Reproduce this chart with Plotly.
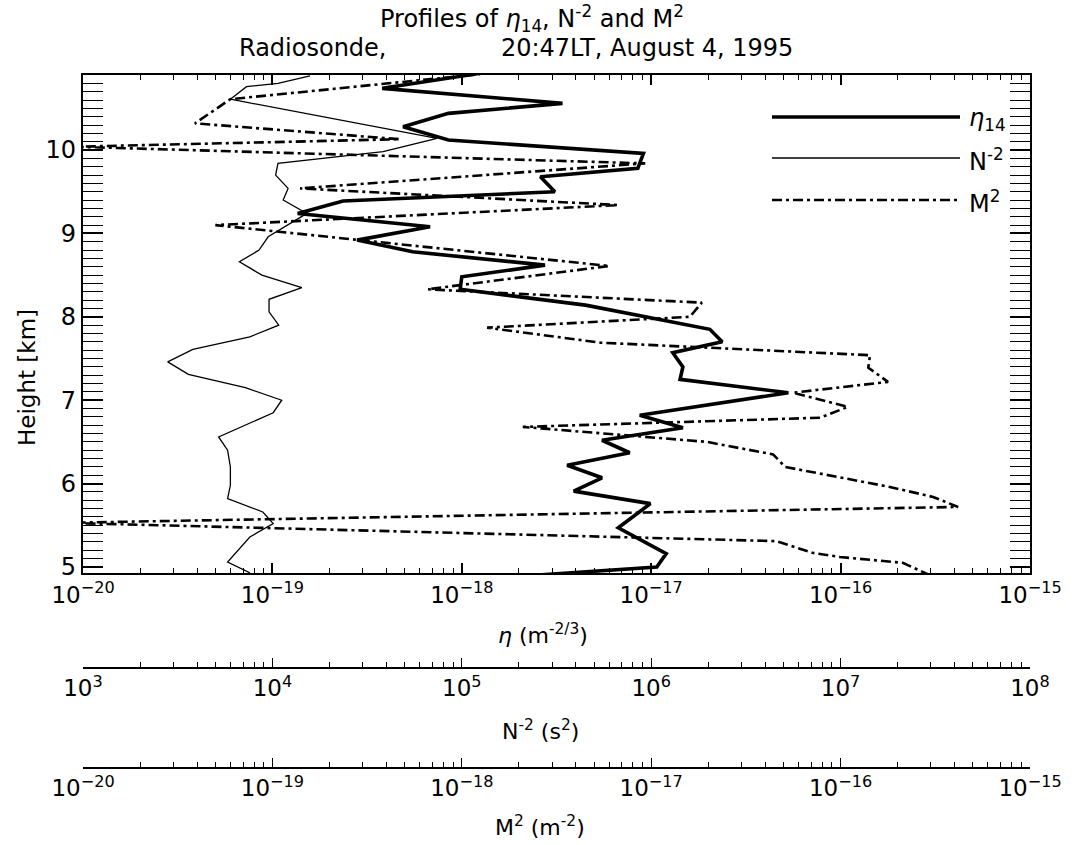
import plotly.graph_objects as go

# ---------------- data ----------------
# eta_14 profile (m^-2/3) vs height (km)
h_eta = [4.90, 5.00, 5.16, 5.47, 5.76, 5.91, 6.07, 6.22, 6.37, 6.52, 6.67, 6.82, 7.09,
         7.25, 7.40, 7.57, 7.70, 7.85, 8.14, 8.33, 8.48, 8.62, 8.78, 8.92, 9.08, 9.24,
         9.39, 9.50, 9.68, 9.78, 9.96, 10.12, 10.28, 10.44, 10.56, 10.74, 10.92]
eta14 = [2.4e-18, 1.07e-17, 1.20e-17, 6.7e-18, 9.9e-18, 3.9e-18, 5.5e-18, 3.6e-18, 7.7e-18,
         5.5e-18, 1.47e-17, 8.7e-18, 5.3e-17, 1.42e-17, 1.47e-17, 1.30e-17, 2.37e-17, 2.04e-17,
         4.5e-18, 9.8e-19, 1.0e-18, 2.75e-18, 5.5e-19, 2.8e-19, 6.8e-19, 1.36e-19, 2.36e-19,
         3.1e-18, 2.6e-18, 8.5e-18, 9.1e-18, 8.5e-19, 4.9e-19, 8.5e-19, 3.4e-18, 3.8e-19, 1.25e-18]

# N^-2 profile (s^2) vs height (km)
h_n = [4.93, 5.06, 5.36, 5.52, 5.66, 5.82, 5.98, 6.20, 6.40, 6.56, 6.85, 7.00, 7.15, 7.31,
       7.46, 7.61, 7.76, 7.90, 8.06, 8.21, 8.35, 8.50, 8.66, 8.80, 8.96, 9.24, 9.40, 9.54,
       9.70, 9.84, 9.98, 10.14, 10.61, 10.76, 10.80, 10.89]
n_inv2 = [7.6e3, 5.8e3, 7.6e3, 1.01e4, 8.9e3, 5.8e3, 6.0e3, 6.0e3, 5.8e3, 5.2e3, 1.01e4, 1.12e4,
          7.2e3, 3.6e3, 2.8e3, 3.8e3, 7.6e3, 1.08e4, 9.6e3, 9.6e3, 1.43e4, 8.8e3, 6.7e3, 8.5e3,
          9.5e3, 1.52e4, 1.14e4, 1.21e4, 1.04e4, 1.07e4, 3.84e4, 7.4e4, 6.0e3, 7.3e3, 1.07e4, 1.58e4]

# M^2 profile (m^-2) vs height (km)
h_m = [4.90, 5.05, 5.12, 5.17, 5.31, 5.53, 5.72, 5.84, 5.96, 6.20, 6.35, 6.50, 6.68, 6.79,
       6.92, 7.09, 7.22, 7.39, 7.54, 7.69, 7.87, 8.00, 8.17, 8.33, 8.61, 9.10, 9.34, 9.54,
       9.84, 10.04, 10.13, 10.32, 10.61, 10.91]
m_sq = [2.97e-16, 2.13e-16, 9.9e-17, 7.1e-17, 4.6e-17, 8e-21, 4.17e-16, 3.08e-16, 1.82e-16,
        5.1e-17, 4.4e-17, 1.97e-17, 2.1e-18, 7.8e-17, 1.09e-16, 5.6e-17, 1.78e-16, 1.40e-16,
        1.43e-16, 5.4e-18, 1.36e-18, 1.60e-17, 1.85e-17, 6.6e-19, 6.0e-18, 5.0e-20, 6.7e-18,
        1.40e-19, 9.3e-18, 9e-21, 4.7e-19, 3.9e-20, 6.0e-20, 1.25e-18]

eta_decades = [-20, -19, -18, -17, -16, -15]
n_decades = [3, 4, 5, 6, 7, 8]
m_decades = [-20, -19, -18, -17, -16, -15]
height_ticks = [5, 6, 7, 8, 9, 10]

# ---------------- layout geometry ----------------
W, H = 1077, 845
L, R, T, B = 83, 47, 75, 75
PW, PH = W - L - R, H - T - B


def px(p):
    return (p - L) / PW


def py(p):
    return (H - B - p) / PH


FONT = "DejaVu Sans"
DASHDOT = "10px,4px,3px,4px"
ETA = "<i>\u03b7</i>"


def minor_vals(decs):
    return [m * 10.0 ** e for e in decs[:-1] for m in range(2, 10)]


def sup_labels(decs):
    return ["10<sup>%s</sup>" % (str(d).replace("-", "\u2212")) for d in decs]


fig = go.Figure()
fig.add_trace(go.Scatter(x=eta14, y=h_eta, mode="lines", xaxis="x", yaxis="y",
                         line=dict(color="black", width=3.6), showlegend=False))
fig.add_trace(go.Scatter(x=n_inv2, y=h_n, mode="lines", xaxis="x2", yaxis="y",
                         line=dict(color="black", width=1.3), showlegend=False))
fig.add_trace(go.Scatter(x=m_sq, y=h_m, mode="lines", xaxis="x3", yaxis="y",
                         line=dict(color="black", width=2.6, dash=DASHDOT), showlegend=False))

common_x = dict(type="log", showgrid=False, zeroline=False, showline=True, linecolor="black",
                ticks="inside", tickcolor="black", tickfont=dict(family=FONT, size=23, color="black"),
                tickmode="array")

fig.update_layout(
    width=W, height=H, margin=dict(l=L, r=R, t=T, b=B),
    paper_bgcolor="white", plot_bgcolor="white",
    font=dict(family=FONT, color="black"),
    xaxis=dict(common_x, range=[-20, -15], anchor="y", linewidth=2.2, mirror="allticks",
               tickvals=[10.0 ** d for d in eta_decades], ticktext=sup_labels(eta_decades),
               ticklen=10, tickwidth=1.6,
               minor=dict(tickmode="array", tickvals=minor_vals(eta_decades), ticks="inside",
                          ticklen=5, tickwidth=1.3, tickcolor="black")),
    xaxis2=dict(common_x, range=[3, 8], overlaying="x", anchor="free", position=py(668),
                side="bottom", linewidth=1.6,
                tickvals=[10.0 ** d for d in n_decades], ticktext=sup_labels(n_decades),
                ticklen=9, tickwidth=1.4,
                minor=dict(tickmode="array", tickvals=minor_vals(n_decades), ticks="inside",
                           ticklen=5, tickwidth=1.2, tickcolor="black")),
    xaxis3=dict(common_x, range=[-20, -15], overlaying="x", anchor="free", position=py(768),
                side="bottom", linewidth=1.6,
                tickvals=[10.0 ** d for d in m_decades], ticktext=sup_labels(m_decades),
                ticklen=9, tickwidth=1.4,
                minor=dict(tickmode="array", tickvals=minor_vals(m_decades), ticks="inside",
                           ticklen=5, tickwidth=1.2, tickcolor="black")),
    yaxis=dict(range=[4.928, 10.90], domain=[py(573), 1], showgrid=False, zeroline=False,
               showline=True, linecolor="black", linewidth=2.2, mirror="allticks",
               ticks="inside", ticklen=20, tickwidth=1.6, tickcolor="black",
               tickmode="array", tickvals=height_ticks,
               tickfont=dict(family=FONT, size=24, color="black"),
               minor=dict(dtick=0.1, ticks="inside", ticklen=10, tickwidth=1.3, tickcolor="black")),
)

ann = []


def add_text(text, xp, yp, size, angle=0, xanchor="center"):
    ann.append(dict(text=text, x=px(xp), y=py(yp), xref="paper", yref="paper",
                    showarrow=False, xanchor=xanchor, yanchor="middle", textangle=angle,
                    font=dict(family=FONT, size=size, color="black")))


add_text("Profiles of " + ETA + "<sub>14</sub>, N<sup>-2</sup> and M<sup>2</sup>", 532, 19, 24)
add_text("Radiosonde," + "\u00a0" * 15 + "20:47LT, August 4, 1995", 516, 48, 24)
add_text(ETA + " (m<sup>-2/3</sup>)", 543, 634, 22)
add_text("N<sup>-2</sup> (s<sup>2</sup>)", 540, 730, 22)
add_text("M<sup>2</sup> (m<sup>-2</sup>)", 540, 826, 22)
add_text("Height [km]", 27, 378, 23, angle=-90)

# legend (drawn manually to reproduce the long sample lines)
legend_items = [(ETA + "<sub>14</sub>", 117, 3.6, "solid"),
                ("N<sup>-2</sup>", 158, 1.3, "solid"),
                ("M<sup>2</sup>", 200, 2.6, DASHDOT)]
shapes = []
for label, yy, wdt, dsh in legend_items:
    shapes.append(dict(type="line", xref="paper", yref="paper", x0=px(772), x1=px(960),
                       y0=py(yy), y1=py(yy), line=dict(color="black", width=wdt, dash=dsh)))
    add_text(label, 967, yy + 2, 24, xanchor="left")

fig.update_layout(annotations=ann, shapes=shapes)
fig.write_html("out.html")
